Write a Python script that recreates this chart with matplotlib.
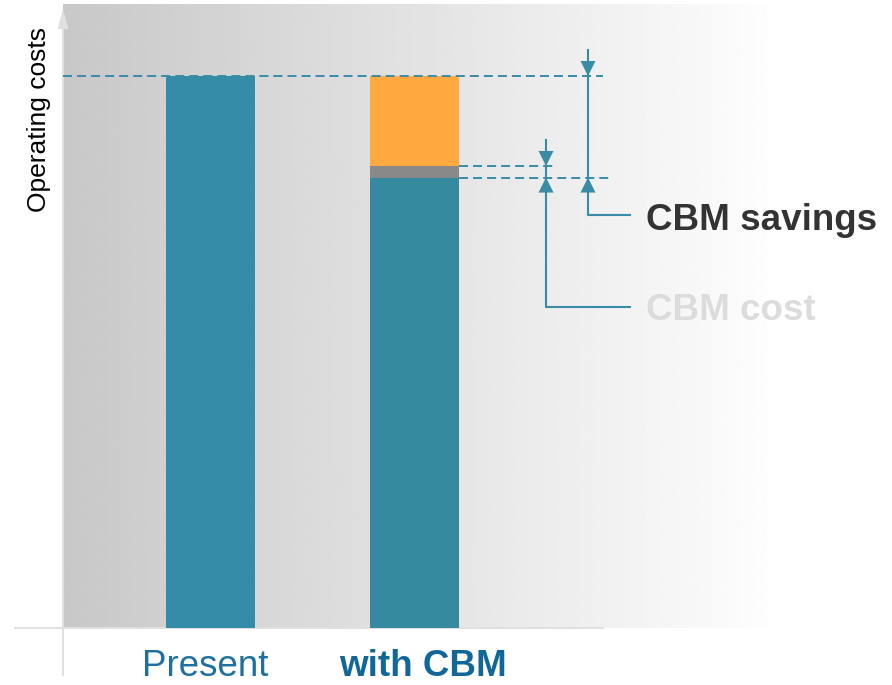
import matplotlib.pyplot as plt
import numpy as np

plt.rcParams['font.family'] = ['Liberation Sans', 'DejaVu Sans']
plt.rcParams['lines.scale_dashes'] = False

# data (present operating cost = 100)
categories = ["Present", "with CBM"]
present_cost = 100.0
base_cost = 81.6      # operating costs left with CBM
cbm_cost = 2.1        # cost of CBM itself
cbm_savings = 16.3    # saved part

teal = "#3a8ca6"
W, H = 892, 685

fig = plt.figure(figsize=(W / 100, H / 100), dpi=100)
ax = fig.add_axes([0, 0, 1, 1])
ax.axis("off")

# pixel helpers (layout only)
px_x, px_y = 204.0, 5.52
x0, y0 = 210.5, 628.0
def X(p):
    return (p - x0) / px_x
def Y(p):
    return (y0 - p) / px_y

# gradient background
grad = np.linspace(200, 253, 256) / 255.0
ax.imshow(np.tile(grad, (2, 1)), cmap="gray", vmin=0, vmax=1, aspect="auto",
          extent=[X(63), X(767), 0, Y(4)], interpolation="bilinear", zorder=0)
ax.set_xlim(X(0), X(W))
ax.set_ylim(Y(H), Y(0))

# axes lines
ax.plot([X(63), X(63)], [Y(675), Y(26)], color="#e0e0e0", lw=1.5, zorder=1)
ax.annotate("", xy=(X(63), Y(9)), xytext=(X(63), Y(30)),
            arrowprops=dict(arrowstyle="-|>,head_length=0.72,head_width=0.2",
                            mutation_scale=20, color="#e0e0e0", lw=0,
                            shrinkA=0, shrinkB=0))
ax.plot([X(15), X(603)], [0, 0], color="#e0e0e0", lw=1.5, zorder=1)

# bars
bw = 89 / px_x
ax.bar(0, present_cost, width=bw, color="#348ca9", zorder=2)
ax.bar(1, base_cost, width=bw, color="#358aa0", zorder=2)
ax.bar(1, cbm_cost, width=bw, bottom=base_cost, color="#898989", zorder=2)
ax.bar(1, cbm_savings, width=bw, bottom=base_cost + cbm_cost, color="#ffa940", zorder=2)

# dashed guide lines
dash = dict(color=teal, lw=1.4, dashes=(6.5, 3.6), zorder=3)
ax.plot([X(63), X(603)], [present_cost, present_cost], **dash)
ax.plot([1 + bw / 2, X(554)], [base_cost + cbm_cost] * 2, **dash)
ax.plot([1 + bw / 2, X(613)], [base_cost] * 2, **dash)

def head(x, tip, down):
    d = 15 / px_y
    ax.annotate("", xy=(x, tip), xytext=(x, tip + d if down else tip - d),
                arrowprops=dict(arrowstyle="-|>,head_length=0.54,head_width=0.27",
                                mutation_scale=20, color=teal, lw=0,
                                shrinkA=0, shrinkB=0), zorder=4)

# savings dimension
xs = X(588)
ax.plot([xs, xs, X(630)], [Y(50), Y(215), Y(215)], color=teal, lw=1.5, zorder=4)
head(xs, present_cost, True)
head(xs, base_cost, False)

# cost dimension
xc = X(546)
ax.plot([xc, xc, X(630)], [Y(140), Y(307), Y(307)], color=teal, lw=1.5, zorder=4)
head(xc, base_cost + cbm_cost, True)
head(xc, base_cost, False)

ax.text(X(646), Y(230), "CBM savings", fontsize=26.5, fontweight="bold",
        color="#333333", ha="left", va="baseline")
ax.text(X(646), Y(320), "CBM cost", fontsize=26.5, fontweight="bold",
        color="#dcdcdc", ha="left", va="baseline")

# category labels
ax.text(0 - 5.5 / px_x, Y(676), categories[0], fontsize=26.5, color="#1d70a0",
        ha="center", va="baseline")
ax.text(1 + 8 / px_x, Y(676), categories[1], fontsize=26.5, fontweight="bold",
        color="#12679a", ha="center", va="baseline")

ax.text(X(39), Y(119.5), "Operating costs", rotation=90, fontsize=19,
        color="black", ha="center", va="center")

fig.savefig("out.png", dpi=100)
